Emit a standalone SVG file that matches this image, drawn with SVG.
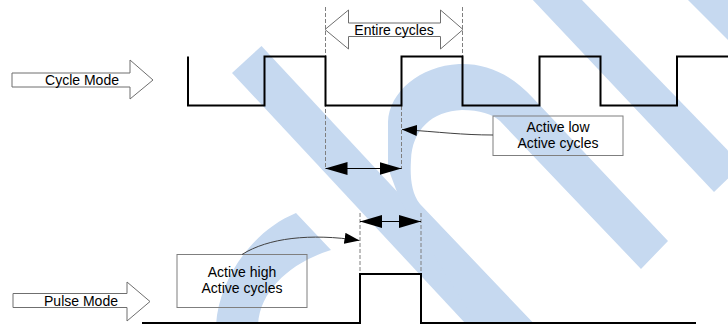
<svg xmlns="http://www.w3.org/2000/svg" width="728" height="324" viewBox="0 0 728 324">
<style>
.wm{fill:#c6d9f0;stroke:none}
.wave{fill:none;stroke:#000;stroke-width:2;stroke-linejoin:miter}
.guide{fill:none;stroke:#7f7f7f;stroke-width:1;stroke-dasharray:4,2}
.box{fill:none;stroke:#7f7f7f;stroke-width:1}
.blk{fill:#fff;stroke:#6f6f6f;stroke-width:1}
.dim{fill:none;stroke:#000;stroke-width:1}
.call{fill:none;stroke:#404040;stroke-width:1}
text{font-family:"Liberation Sans","DejaVu Sans",sans-serif;font-size:14px;fill:#000;text-anchor:middle}
</style>
<defs>
<marker id="big" viewBox="0 0 22 13" markerWidth="22" markerHeight="13" refX="22" refY="6.5" orient="auto-start-reverse" markerUnits="userSpaceOnUse">
<path d="M0,0 L22,6.5 L0,13 Z" fill="#000"/>
</marker>
<marker id="small" viewBox="0 0 15 11" markerWidth="15" markerHeight="11" refX="15" refY="5.5" orient="auto" markerUnits="userSpaceOnUse">
<path d="M0,0 L15,5.5 L0,11 Z" fill="#000"/>
</marker>
</defs>
<rect width="728" height="324" fill="#fff"/>
<g id="watermark">
<polygon class="wm" points="232,73 261.5,46 526,330 471.5,330"/>
<path class="wm" d="M668,241 L533,98 C510,73 485,63 459,64 C420,66 389,92 388,122 L388,168 L400,200 L480,330 L540,330 L420,204 C411,193 410,176 411,160 C412,130 432,111 462,110 C480,110 492,114 500,121 L641,269 Z"/>
<polygon class="wm" points="531,-2 580,-2 742,165 714,192"/>
<polygon class="wm" points="686,-2 740,-2 740,52"/>
<path class="wm" d="M216,326 C218,282 250,232 296,213 L331,250 C292,262 259,290 258,326 Z"/>
</g>
<g id="guides">
<line class="guide" x1="325.5" y1="7" x2="325.5" y2="169"/>
<line class="guide" x1="462.5" y1="7" x2="462.5" y2="56"/>
<line class="guide" x1="401.5" y1="106" x2="401.5" y2="169"/>
<line class="guide" x1="360" y1="213" x2="360" y2="274"/>
<line class="guide" x1="421" y1="213" x2="421" y2="274"/>
</g>
<g id="cycle-wave">
<path class="wave" d="M188,56.5 L188,105.5 L264.5,105.5 L264.5,56.5 L325.5,56.5 L325.5,105.5 L401.5,105.5 L401.5,56.5 L462.5,56.5 L462.5,105.5 L539.5,105.5 L539.5,56.5 L600.5,56.5 L600.5,105.5 L677,105.5 L677,56.5 L730,56.5"/>
</g>
<g id="pulse-wave">
<path class="wave" d="M142,323 L360,323 L360,274 L421,274 L421,323 L696,323"/>
</g>
<g id="cycle-mode">
<polygon class="blk" points="12,73 130,73 130,60 153,80 130,99 130,87 12,87"/>
<text x="82" y="84.5">Cycle Mode</text>
</g>
<g id="pulse-mode">
<polygon class="blk" points="13,293.5 127,293.5 127,282 150,301.5 127,321 127,307.5 13,307.5"/>
<text x="81" y="305.5">Pulse Mode</text>
</g>
<g id="entire-cycles">
<polygon class="blk" points="325,29.5 348.5,10 348.5,23 440.5,23 440.5,10 463,29.5 440.5,49 440.5,36.5 348.5,36.5 348.5,49"/>
<text x="394" y="34.5">Entire cycles</text>
</g>
<g id="active-low">
<rect class="box" x="493" y="116" width="130" height="39.5"/>
<text x="558" y="131.5">Active low</text>
<text x="558" y="147.5">Active cycles</text>
</g>
<g id="active-high">
<rect class="box" x="177" y="254.5" width="130" height="53"/>
<text x="242" y="276.5">Active high</text>
<text x="242" y="292.5">Active cycles</text>
</g>
<g id="connectors">
<line class="dim" x1="325.5" y1="168.5" x2="401.5" y2="168.5" marker-start="url(#big)" marker-end="url(#big)"/>
<line class="dim" x1="360" y1="221.5" x2="421" y2="221.5" marker-start="url(#big)" marker-end="url(#big)"/>
<path class="call" d="M493,135 C462,135 440,132 402,129.5" marker-end="url(#small)"/>
<path class="call" d="M242,254.5 C268,238 310,233 359.5,240.5" marker-end="url(#small)"/>
</g>
</svg>
